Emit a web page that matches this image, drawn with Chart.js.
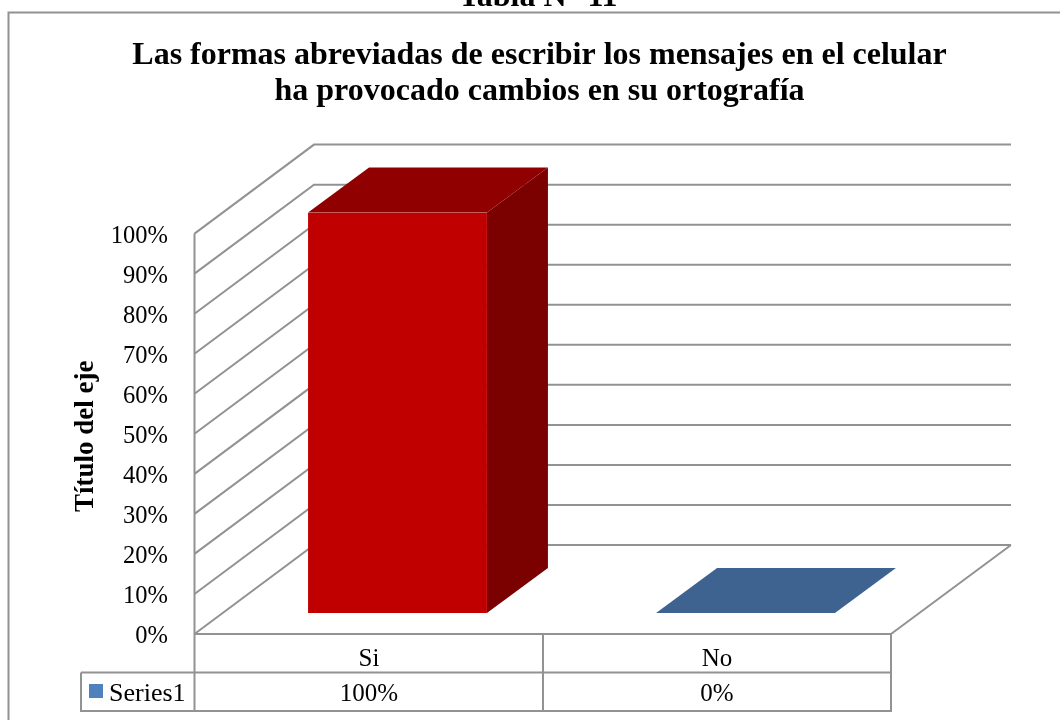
<!DOCTYPE html>
<html lang="es"><head><meta charset="utf-8">
<style>html,body{margin:0;padding:0;background:#fff;overflow:hidden}canvas{display:block}</style>
<script src="https://cdn.jsdelivr.net/npm/chart.js@4"></script></head>
<body><canvas id="c" width="1060" height="720"></canvas>
<script>
const categories = ["Si", "No"];
const seriesName = "Series1";
const values = [100, 0];
const titleLines = ["Las formas abreviadas de escribir los mensajes en el celular", "ha provocado cambios en su ortografía"];
const headingText = "Tabla N° 11";
const axisTitle = "Título del eje";
const faceColors = ["#C00000", "#4F81BD"];
const topColors = ["#900000", "#3F6391"];
const sideColors = ["#7B0000", "#2F4B6E"];
const legendColor = "#4F81BD";
const lineColor = "#929292";
const serif = "'Liberation Serif', serif";

const planeShift = -2.5;
const wall = {dx: 119, dy: -89};
const barOffset = {dx: 28.5, dy: -23.5};
const barDepth = {dx: 61, dy: -45};

function line(ctx, pts, w) {
  ctx.beginPath();
  pts.forEach((p, i) => i ? ctx.lineTo(p[0], p[1]) : ctx.moveTo(p[0], p[1]));
  ctx.lineWidth = w || 2; ctx.strokeStyle = lineColor; ctx.stroke();
}
function poly(ctx, pts, color) {
  ctx.beginPath();
  pts.forEach((p, i) => i ? ctx.lineTo(p[0], p[1]) : ctx.moveTo(p[0], p[1]));
  ctx.closePath(); ctx.fillStyle = color; ctx.fill();
}
const scene = {
  id: "scene",
  beforeDraw(chart) {
    const ctx = chart.ctx;
    ctx.save();
    line(ctx, [[8.5, 720], [8.5, 12.5], [1060, 12.5]], 2);
    ctx.fillStyle = "#000"; ctx.textAlign = "center"; ctx.textBaseline = "alphabetic";
    ctx.font = "bold 32px " + serif;
    ctx.fillText(headingText, 538, 6);
    ctx.restore();
  },
  beforeDatasetsDraw(chart) {
    const ctx = chart.ctx, a = chart.chartArea, y = chart.scales.y;
    ctx.save();
    const bottom = a.bottom + planeShift;
    // walls and floor
    y.ticks.forEach(t => {
      const py = y.getPixelForValue(t.value) + planeShift;
      line(ctx, [[a.left - 0.5, py], [a.left + wall.dx, py + wall.dy], [a.right + wall.dx + 1, py + wall.dy]]);
    });
    line(ctx, [[a.right, bottom], [a.right + wall.dx + 1, bottom + wall.dy]]);
    line(ctx, [[a.left - 0.5, y.getPixelForValue(y.max) + planeShift], [a.left - 0.5, bottom]]);
    // 3D faces of the bars
    chart.getDatasetMeta(0).data.forEach((bar, i) => {
      const p = bar.getProps(["x", "y", "base", "width"], true);
      const l = p.x - p.width / 2 + barOffset.dx, r = p.x + p.width / 2 + barOffset.dx;
      const t = p.y + barOffset.dy, b = p.base + barOffset.dy;
      const d = barDepth;
      if (b - t > 0.5) poly(ctx, [[r, t], [r + d.dx, t + d.dy], [r + d.dx, b + d.dy], [r, b]], sideColors[i]);
      poly(ctx, [[l, t], [l + d.dx, t + d.dy], [r + d.dx, t + d.dy], [r, t]], topColors[i]);
    });
    // front faces: the library's own bars, shifted into the floor plane
    ctx.translate(barOffset.dx, barOffset.dy);
  },
  afterDatasetsDraw(chart) {
    chart.ctx.restore();
    const ctx = chart.ctx, a = chart.chartArea, x = chart.scales.x;
    ctx.save();
    const bottom = a.bottom + planeShift;
    const row1 = 672.5, row2 = 711, legendLeft = 81;
    // data table
    line(ctx, [[a.left - 0.5, bottom], [a.right, bottom]], 2);
    line(ctx, [[a.left - 0.5, bottom], [a.left - 0.5, row2]]);
    line(ctx, [[(a.left + a.right) / 2, bottom], [(a.left + a.right) / 2, row2]]);
    line(ctx, [[a.right, bottom], [a.right, row2]]);
    line(ctx, [[legendLeft, row1], [a.right + 1, row1]]);
    line(ctx, [[legendLeft - 1, row2], [a.right + 1, row2]]);
    line(ctx, [[legendLeft, row1], [legendLeft, row2]]);
    ctx.fillStyle = legendColor;
    ctx.fillRect(89, 684, 14, 14);
    ctx.fillStyle = "#000"; ctx.textBaseline = "alphabetic";
    ctx.font = "26px " + serif;
    ctx.textAlign = "left"; ctx.fillText(seriesName, 109, 701);
    ctx.font = "25px " + serif;
    ctx.textAlign = "center";
    values.forEach((v, i) => ctx.fillText(v + "%", x.getPixelForTick(i), 701));
    ctx.restore();
  }
};
new Chart(document.getElementById("c"), {
  type: "bar",
  data: { labels: categories, datasets: [{ label: seriesName, data: values, backgroundColor: faceColors, borderWidth: 0 }] },
  plugins: [scene],
  options: {
    responsive: false, animation: false, devicePixelRatio: 1,
    layout: { padding: { left: 19, right: 0, top: 0, bottom: 0 } },
    datasets: { bar: { categoryPercentage: 1, barPercentage: 0.514 } },
    plugins: {
      legend: { display: false }, tooltip: { enabled: false },
      title: { display: true, text: titleLines, color: "#000",
        font: { family: serif, size: 32, weight: "bold", lineHeight: 1.15 },
        padding: { top: 37, bottom: 125.5 } }
    },
    scales: {
      x: { grid: { display: false, drawTicks: false }, border: { display: false },
        ticks: { color: "#000", font: { family: serif, size: 25 }, padding: 8 },
        afterFit(s) { s.height = 83.5; } },
      y: { min: 0, max: 100, grid: { display: false, drawTicks: false }, border: { display: false },
        ticks: { stepSize: 10, color: "#000", font: { family: serif, size: 24.5 }, padding: 27, callback: v => v + "%" },
        title: { display: true, text: axisTitle, color: "#000", font: { family: serif, size: 27, weight: "bold" }, padding: { top: 51, bottom: 0 } },
        afterFit(s) { s.width = 176; } },
      r: { position: "right", display: true, grid: { display: false, drawTicks: false }, border: { display: false },
        ticks: { display: false }, afterFit(s) { s.width = 169; } }
    }
  }
});
</script></body></html>
